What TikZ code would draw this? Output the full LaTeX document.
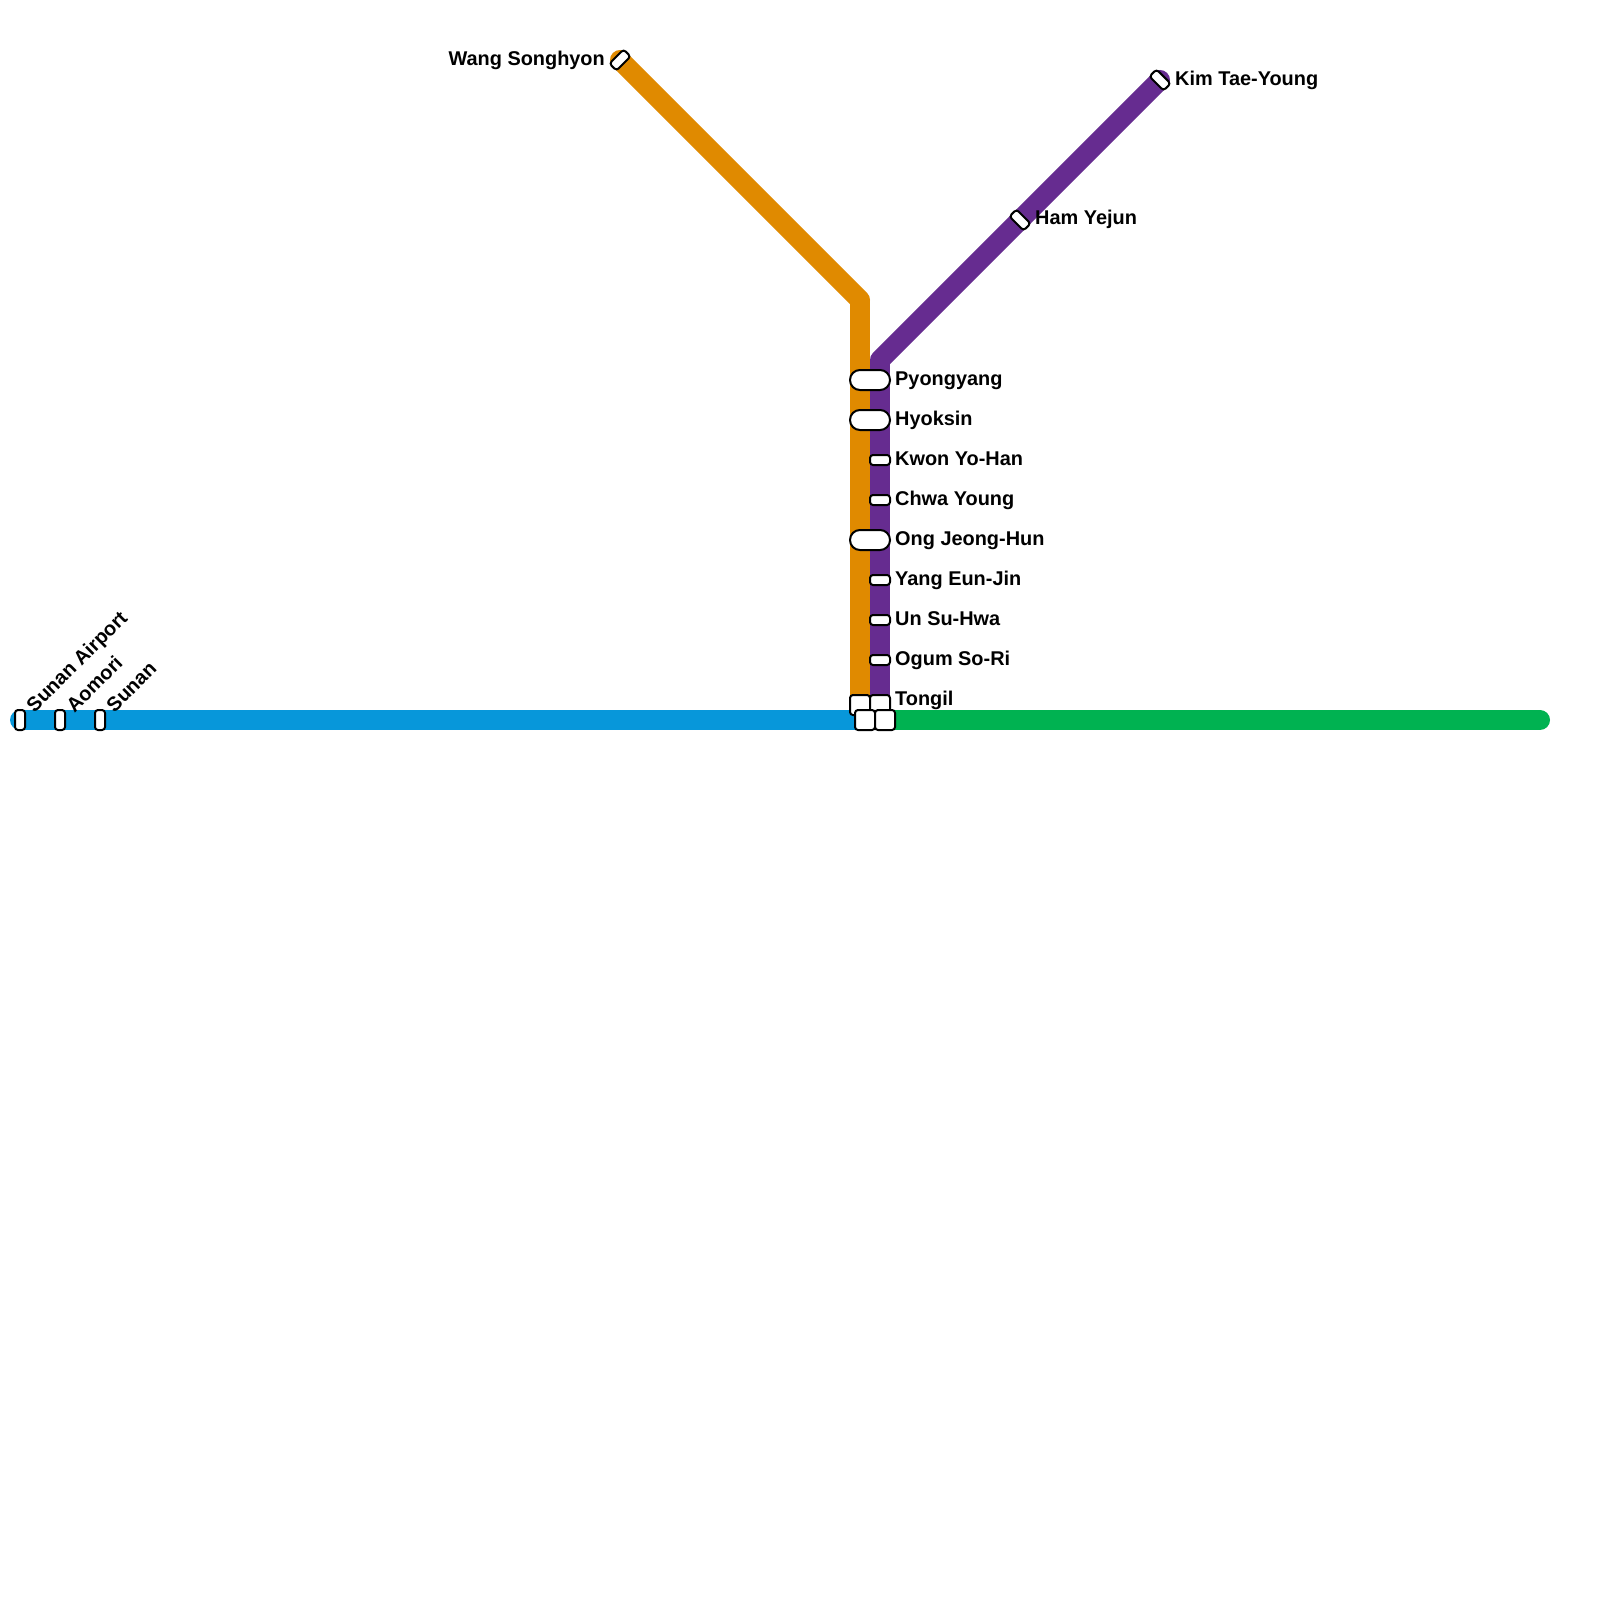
\documentclass[tikz,border=0pt]{standalone}
\usepackage{fontspec}
\setmainfont{Liberation Sans}
\definecolor{blueline}{HTML}{0797DA}
\definecolor{greenline}{HTML}{00B251}
\definecolor{orangeline}{HTML}{E08A00}
\definecolor{purpleline}{HTML}{662C90}
\tikzset{
  line/.style={line width=20pt,line join=round},
  st/.style={draw=black,fill=white,line width=2pt,inner sep=0pt,outer sep=0pt,rounded corners=3pt,minimum width=#1},
  st/.default=20pt,
  stv/.style={st=10pt,minimum height=20pt},
  sth/.style={st=20pt,minimum height=10pt},
  stsq/.style={st=20pt,minimum height=20pt},
  stpill/.style={st=40pt,minimum height=20pt,rounded corners=9.9pt},
  lab/.style={font=\bfseries\fontsize{19.9}{24}\selectfont,inner sep=0pt,text=black},
}
\begin{document}
\begin{tikzpicture}[x=1pt,y=-1pt]
\useasboundingbox (0,0) rectangle (1600,1600);
\fill[white] (0,0) rectangle (1600,1600);
% anchors for the lines
\coordinate (obend) at (860,300);
\coordinate (pbend) at (880,360);
\coordinate (oend) at (860,705);
\coordinate (pend) at (880,705);
\coordinate (bend) at (875,720);
\coordinate (gstart) at (875,720);
\coordinate (gend) at (1540,720);
\coordinate (bstart) at (20,720);
\coordinate (wang) at (620,60);
\coordinate (kim) at (1160,80);
% lines
\draw[line,blueline,line cap=round] (bstart) -- (bend);
\draw[line,greenline,line cap=round] (gstart) -- (gend);
\draw[line,orangeline,line cap=round] (wang) -- (obend);
\draw[line,orangeline] (obend) -- (oend);
\draw[line,purpleline,line cap=round] (kim) -- (pbend);
\draw[line,purpleline] (pbend) -- (pend);
% stations
\node[stv] (s1) at (20,720) {};
\node[stv] (s2) at (60,720) {};
\node[stv] (s3) at (100,720) {};
\node[sth,rotate=45] (swang) at (wang) {};
\node[sth,rotate=-45] (skim) at (kim) {};
\node[sth,rotate=-45] (sham) at (1020,220) {};
\node[stpill] (spy) at (870,380) {};
\node[stpill] (shy) at (870,420) {};
\node[sth] (skw) at (880,460) {};
\node[sth] (sch) at (880,500) {};
\node[stpill] (son) at (870,540) {};
\node[sth] (sya) at (880,580) {};
\node[sth] (sun) at (880,620) {};
\node[sth] (sog) at (880,660) {};
\node[stsq] (sto1) at (860,705) {};
\node[stsq] (sto2) at (880,705) {};
\node[stsq] (sto3) at (865,720) {};
\node[stsq] (sto4) at (885,720) {};
% labels
\node[lab,rotate=45,anchor=base west] (l1) at (34.5,713.5) {Sunan Airport};
\node[lab,rotate=45,anchor=base west] (l2) at (74.5,713.5) {Aomori};
\node[lab,rotate=45,anchor=base west] (l3) at (114.5,713.5) {Sunan};
\node[lab,anchor=base east] (lwang) at (605,66) {Wang Songhyon};
\node[lab,anchor=base west] (lkim) at (1175,86) {Kim Tae-Young};
\node[lab,anchor=base west] (lham) at (1035,224.5) {Ham Yejun};
\node[lab,anchor=base west] (lpy) at (895,385) {Pyongyang};
\node[lab,anchor=base west] (lhy) at (895,425) {Hyoksin};
\node[lab,anchor=base west] (lkw) at (895,465) {Kwon Yo-Han};
\node[lab,anchor=base west] (lch) at (895,505) {Chwa Young};
\node[lab,anchor=base west] (lon) at (895,545) {Ong Jeong-Hun};
\node[lab,anchor=base west] (lya) at (895,585) {Yang Eun-Jin};
\node[lab,anchor=base west] (lun) at (895,625) {Un Su-Hwa};
\node[lab,anchor=base west] (log) at (895,665) {Ogum So-Ri};
\node[lab,anchor=base west] (lto) at (895,705) {Tongil};
\end{tikzpicture}
\end{document}
